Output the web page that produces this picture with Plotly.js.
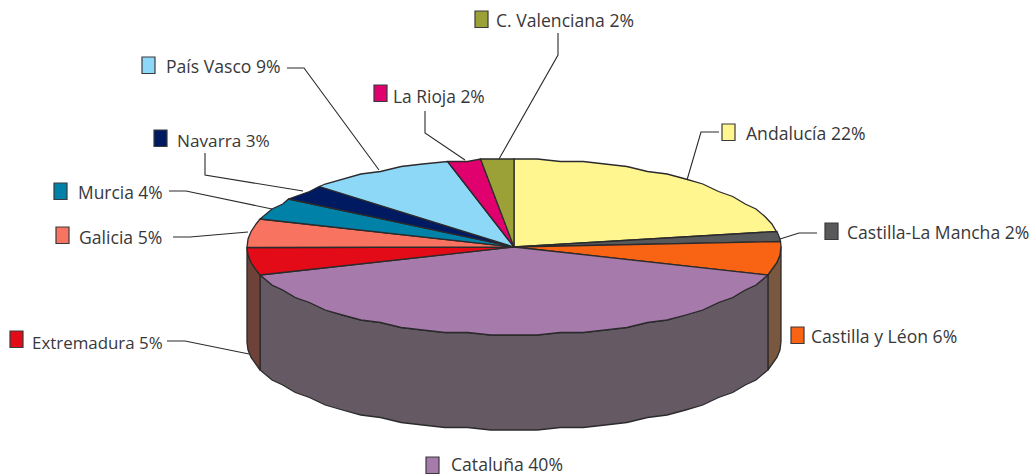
<!DOCTYPE html>
<html><head><meta charset="utf-8">
<script src="https://cdn.plot.ly/plotly-3.0.1.min.js"></script>
<style>html,body{margin:0;padding:0;background:#fff;overflow:hidden}#c{width:1031px;height:475px}</style>
</head><body><div id="c"></div>
<script>
// Data
const categories = ["Andalucía","Castilla-La Mancha","Castilla y Léon","Cataluña","Extremadura","Galicia","Murcia","Navarra","País Vasco","La Rioja","C. Valenciana"];
const values = [22,2,6,40,5,5,4,3,9,2,2];
// Styles
const topColors = ["#fff68f","#58595b","#f96314","#a67aaa","#e30b17","#f87460","#0082a8","#001a62","#8dd7f7","#e0006e","#9ba037"];
const sideColors = ["#8a8550","#3a3a3a","#7a5840","#655a63","#6e4238","#80503f","#004a60","#000e38","#50788a","#7a003c","#565a20"];
// Layout (pixel-mapped axes)
const cx=514, cy=247, rx=267, ry=88, depth=95, step=5, gridY=2.5, ink="#2b2a2c";
const swatchX=[722,825,791,426,10,56,54,154,142,374,475];
const swatchY=[124,223,327,457,331,227,183,130,57,85,11];
const textX=[746,847,811,451,32,79,78,177,166,393,496];
const textY=[133,232,336,463.5,342,237,192,140,66,96,20];
const textSize=[17.6,17.6,17.6,17.6,16.9,17.6,17.4,17.2,17.6,17.4,17.6];
const leaders=[
 [[719,701,687],[132,132,180]],
 [[817,799,780],[233,233,239]],
 null,
 null,
 [[167,185,249],[341,341,354]],
 [[173,190,248],[237,237,232]],
 [[169,186,272],[191,191,209]],
 [[205,205,303],[153,175,191]],
 [[287,304,379],[68,68,170]],
 [[425,425,465],[111,133,160]],
 [[558,558,499],[33,55,159]]
];

const rad=d=>d*Math.PI/180;
const rim=(t,dy=0)=>{
  const c=Math.cos(rad(t)), sag=Math.round(ry*(1-Math.abs(c))/gridY)*gridY;
  return [cx+rx*Math.sin(rad(t)), cy-Math.sign(c||1)*(ry-sag)+dy];
};
const arc=(a,b,dy=0)=>{
  const pts=[rim(a,dy)];
  let t=Math.ceil(a/step)*step; if(t<=a) t+=step;
  for(;t<b;t+=step) pts.push(rim(t,dy));
  pts.push(rim(b,dy));
  return pts;
};
const total=values.reduce((s,v)=>s+v,0);
let acc=0;
const spans=values.map(v=>{const a=acc/total*360; acc+=v; return [a,acc/total*360];});

const traces=[];
const poly=(pts,fill,name)=>traces.push({type:"scatter",mode:"lines",x:pts.map(p=>p[0]),y:pts.map(p=>p[1]),
  fill:"toself",fillcolor:fill,line:{color:ink,width:1.3,shape:"linear"},hoverinfo:"skip",showlegend:false,name});

// side walls of the front half
spans.forEach(([a,b],i)=>{
  const s=Math.max(a,90), e=Math.min(b,270);
  if(e<=s) return;
  const top=arc(s,e), bot=arc(s,e,depth).reverse();
  poly([...top,...bot,top[0]],sideColors[i],categories[i]+" lado");
});
// top face
spans.forEach(([a,b],i)=>{
  poly([[cx,cy],...arc(a,b),[cx,cy]],topColors[i],categories[i]);
});
// leader lines
leaders.forEach(l=>{ if(l) traces.push({type:"scatter",mode:"lines",x:l[0],y:l[1],line:{color:ink,width:1.1},hoverinfo:"skip",showlegend:false}); });

const shapes=categories.map((c,i)=>({type:"rect",xref:"x",yref:"y",x0:swatchX[i],x1:swatchX[i]+13,y0:swatchY[i],y1:swatchY[i]+16.5,
  fillcolor:topColors[i],line:{color:"#3a3a3c",width:1.2}}));
const annotations=categories.map((c,i)=>({xref:"x",yref:"y",x:textX[i],y:textY[i],text:c+" "+values[i]+"%",showarrow:false,
  xanchor:"left",yanchor:"middle",borderpad:0,borderwidth:0,font:{family:"'Open Sans',sans-serif",size:textSize[i],color:"#38383a"}}));

Plotly.newPlot("c",traces,{
  width:1031,height:475,margin:{l:0,r:0,t:0,b:0},paper_bgcolor:"#fff",plot_bgcolor:"#fff",showlegend:false,
  xaxis:{range:[0,1031],visible:false,fixedrange:true},
  yaxis:{range:[475,0],visible:false,fixedrange:true},
  shapes,annotations
},{displayModeBar:false,staticPlot:true});
</script></body></html>
